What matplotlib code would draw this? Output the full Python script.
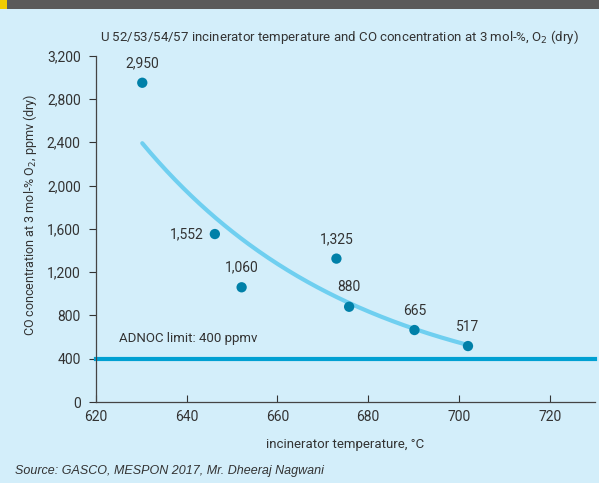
import numpy as np
import matplotlib
matplotlib.use("Agg")
import matplotlib.pyplot as plt
from matplotlib.patches import Rectangle

plt.rcParams['font.family'] = ['Liberation Sans Narrow', 'Roboto', 'DejaVu Sans']

# data
temps = [630.2, 646.2, 652.1, 673.0, 675.8, 690.2, 702.0]
co_ppm = [2950, 1552, 1060, 1325, 880, 665, 517]
point_labels = ["2,950", "1,552", "1,060", "1,325", "880", "665", "517"]
limit_ppm = 400
y_ticks = [0, 400, 800, 1200, 1600, 2000, 2400, 2800, 3200]
x_ticks = [620, 640, 660, 680, 700, 720]

bg = '#d3eefa'
dot_color = '#0080a8'
curve_color = '#6fcff0'
limit_color = '#00a0d2'
text_color = '#333333'

fig = plt.figure(figsize=(5.99, 4.83), dpi=100)
fig.patch.set_facecolor(bg)

# header strip (cut-off title bar)
fig.patches.append(Rectangle((0, 1 - 9 / 483), 1, 9 / 483, transform=fig.transFigure,
                             facecolor='#5b5b5b', edgecolor='none'))
fig.patches.append(Rectangle((0, 1 - 9 / 483), 7 / 599, 9 / 483, transform=fig.transFigure,
                             facecolor='#f2cc00', edgecolor='none'))

ax = fig.add_axes([96 / 599, 1 - 402 / 483, (595 - 96) / 599, (402 - 55.7) / 483])
ax.set_facecolor(bg)
ax.set_xlim(620, 730)
ax.set_ylim(0, 3200)

# exponential trend line fitted to the points
b, a = np.polyfit(temps, np.log(co_ppm), 1)
xs = np.linspace(min(temps), max(temps), 200)
ax.plot(xs, np.exp(a + b * xs), color=curve_color, lw=3, solid_capstyle='round', zorder=2)

ax.axhline(limit_ppm, color=limit_color, lw=3, zorder=2, clip_on=False)
ax.scatter(temps, co_ppm, s=55, color=dot_color, zorder=3, edgecolors='none')

for t, v, lab in zip(temps, co_ppm, point_labels):
    if lab == "1,552":
        ax.annotate(lab, (t, v), xytext=(-8, 0), textcoords='offset points',
                    ha='right', va='center', fontsize=10, color=text_color)
    else:
        ax.annotate(lab, (t, v), xytext=(0, 9), textcoords='offset points',
                    ha='center', va='bottom', fontsize=10, color=text_color)

ax.text(625, 590, "ADNOC limit: 400 ppmv", fontsize=9.5, color=text_color, va='center')

ax.set_xticks(x_ticks)
ax.set_yticks(y_ticks)
ax.set_yticklabels([f"{v:,}" for v in y_ticks])
ax.tick_params(colors=text_color, labelsize=10, length=5, width=0.8)
ax.tick_params(axis='y', direction='out', length=5, pad=6)
ax.tick_params(axis='x', direction='in', length=5, pad=6)
for side in ['top', 'right']:
    ax.spines[side].set_visible(False)
for side in ['left', 'bottom']:
    ax.spines[side].set_color('#444444')
    ax.spines[side].set_linewidth(0.9)

ax.set_xlabel("incinerator temperature, °C", fontsize=9.5, color=text_color, labelpad=10)
fig.text(30 / 599, 1 - 215 / 483, "CO concentration at 3 mol-% O$_2$, ppmv (dry)",
         fontsize=9, color=text_color, rotation=90, ha='center', va='center')

fig.text(100 / 599, 1 - 37 / 483,
         "U 52/53/54/57 incinerator temperature and CO concentration at 3 mol-%, O$_2$ (dry)",
         fontsize=9.5, color=text_color, va='center')
fig.text(15 / 599, 1 - 471 / 483, "Source: GASCO, MESPON 2017, Mr. Dheeraj Nagwani",
         fontsize=9, color=text_color, style='italic', va='center',
         family=['Liberation Sans', 'DejaVu Sans'])

fig.savefig("out.png", dpi=100, facecolor=bg)
